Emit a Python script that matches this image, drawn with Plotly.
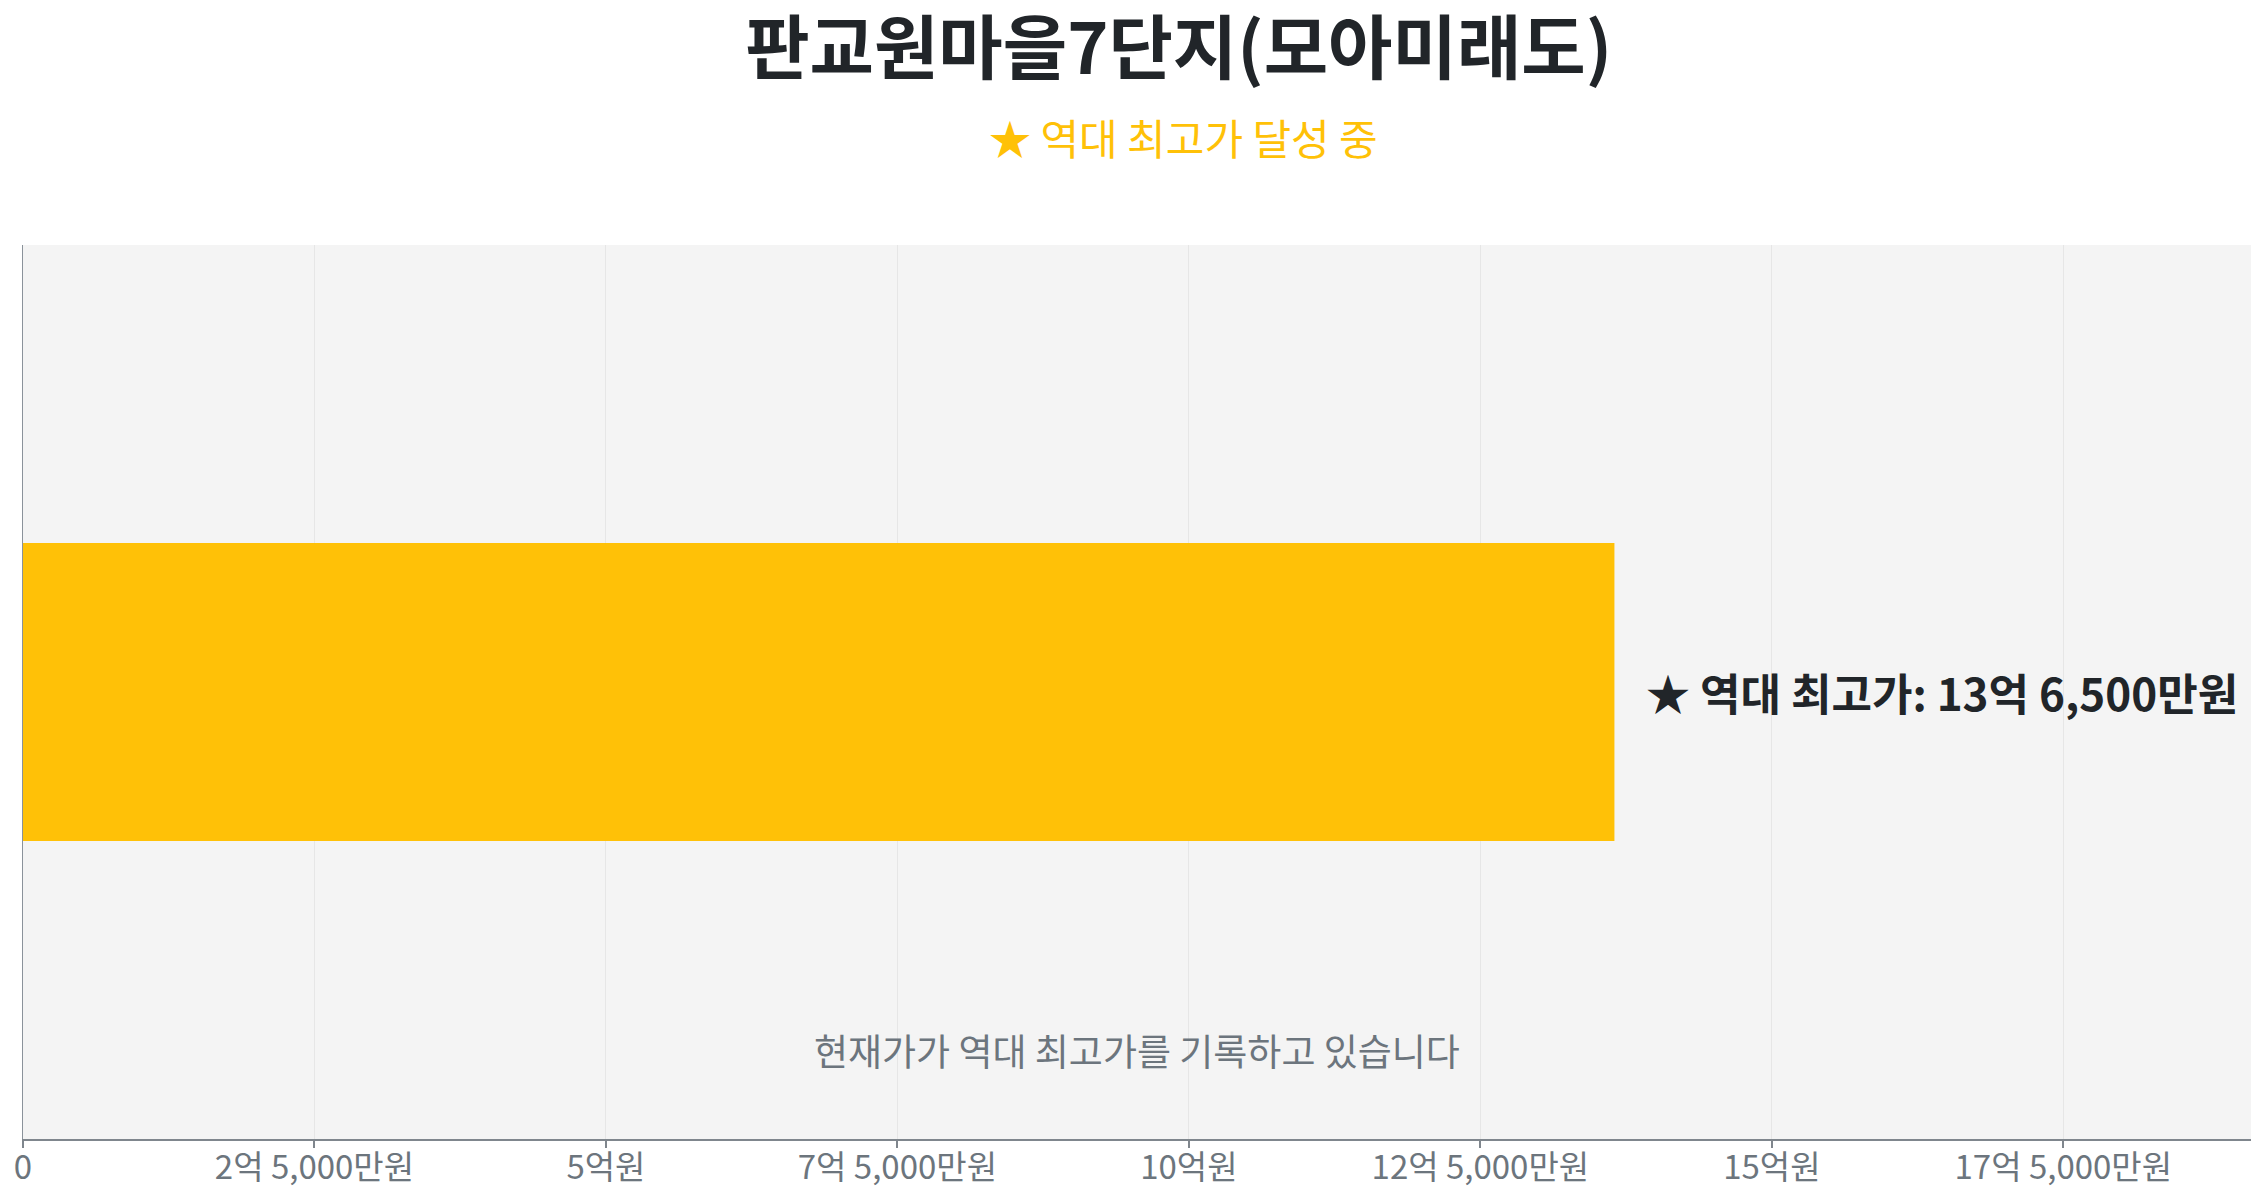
import plotly.graph_objects as go

# ────────────────────────── DATOS ───────────────────────────
apt_name    = "판교원마을7단지(모아미래도)"
subtitle    = "★ 역대 최고가 달성 중"
categories  = ["역대 최고가"]
prices      = [136500]          # 만원
tick_values = [0, 25000, 50000, 75000, 100000, 125000, 150000, 175000]
note_text   = "현재가가 역대 최고가를 기록하고 있습니다"


def fmt_price(v):
    """만원 단위 → '13억 6,500만원' 형식"""
    if v == 0:
        return "0"
    eok, man = divmod(int(v), 10000)
    if eok and man:
        return f"{eok}억 {man:,}만원"
    if eok:
        return f"{eok}억원"
    return f"{man:,}만원"


FONT = "Noto Sans CJK KR"

fig = go.Figure(go.Bar(
    x=prices,
    y=[0],
    orientation="h",
    width=1,
    marker=dict(color="#FFC107", line_width=0),
    hovertext=[fmt_price(p) for p in prices],
    hoverinfo="text",
    showlegend=False,
))

fig.add_annotation(x=prices[0], y=0, xref="x", yref="y",
                   text=f"<b>★ 역대 최고가: {fmt_price(prices[0])}</b>",
                   xanchor="left", yanchor="middle", xshift=30, showarrow=False,
                   font=dict(family=FONT, size=44, color="#212529"))
fig.add_annotation(x=0.5, y=-1.2, xref="paper", yref="y",
                   text=note_text, showarrow=False,
                   font=dict(family=FONT, size=37, color="#6c757d"))
fig.add_annotation(x=0.521, y=1.121, xref="paper", yref="paper",
                   text=subtitle, showarrow=False, yanchor="middle",
                   font=dict(family=FONT, size=42, color="#FFC107"))

fig.update_layout(
    title=dict(text=f"<b>{apt_name}</b>", x=0.521, xanchor="center",
               y=0.965, yanchor="middle", yref="container",
               font=dict(family=FONT, size=70, color="#212529")),
    margin=dict(l=15, r=4, t=237, b=45),
    plot_bgcolor="#f4f4f4", paper_bgcolor="white",
    font=dict(family=FONT, color="#6c757d"),
    xaxis=dict(range=[0, prices[0] * 1.4], tickvals=tick_values,
               ticktext=[fmt_price(v) for v in tick_values],
               showgrid=True, gridcolor="#e6e6e6", gridwidth=1,
               showline=True, linecolor="#7f868d", linewidth=2,
               ticks="outside", ticklen=7, tickcolor="#7f868d", tickwidth=1.5,
               ticklabelstandoff=-9,
               tickfont=dict(family=FONT, size=33, color="#6c757d"),
               zeroline=False, fixedrange=True),
    yaxis=dict(range=[-1.5, 1.5], showticklabels=False, showgrid=False,
               zeroline=False, showline=True, linecolor="#8a929a", linewidth=1.2,
               fixedrange=True),
)

fig.write_html("out.html")
